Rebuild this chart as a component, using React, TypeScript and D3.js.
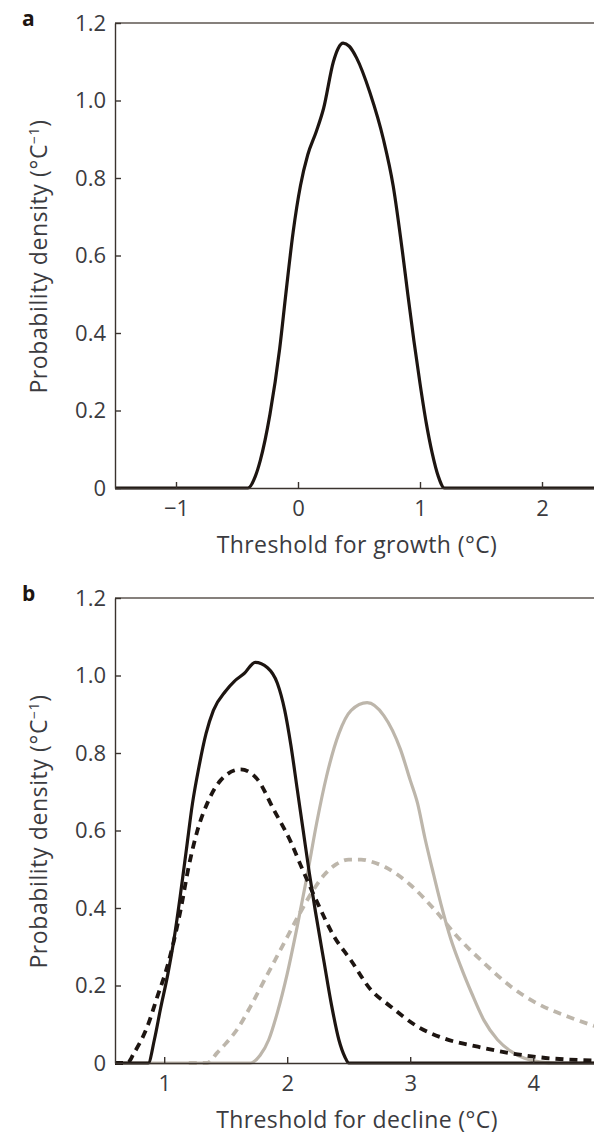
import React from "react";
import * as d3 from "d3";

// panel a: threshold for growth
const growthX = [-1.5, -0.41, -0.35, -0.31, -0.23, -0.15, -0.1, -0.04, 0.02, 0.08, 0.15, 0.21, 0.29, 0.33, 0.37, 0.42, 0.48, 0.59, 0.7, 0.78, 0.86, 0.9, 0.95, 1.0, 1.05, 1.1, 1.15, 1.2, 2.45];
const growthY = [0, 0, 0.03, 0.07, 0.19, 0.36, 0.5, 0.66, 0.78, 0.86, 0.92, 0.98, 1.1, 1.135, 1.148, 1.14, 1.11, 1.02, 0.9, 0.78, 0.6, 0.5, 0.38, 0.27, 0.17, 0.09, 0.03, 0, 0];

// panel b: threshold for decline
const blackSolidX = [0.6, 0.87, 0.92, 0.97, 1.03, 1.08, 1.13, 1.18, 1.23, 1.28, 1.34, 1.4, 1.5, 1.57, 1.65, 1.74, 1.84, 1.92, 1.98, 2.03, 2.08, 2.13, 2.18, 2.23, 2.3, 2.36, 2.42, 2.47, 2.5, 4.6];
const blackSolidY = [0, 0, 0.06, 0.14, 0.23, 0.32, 0.43, 0.55, 0.67, 0.76, 0.85, 0.91, 0.96, 0.985, 1.005, 1.034, 1.02, 0.98, 0.91, 0.82, 0.71, 0.6, 0.49, 0.39, 0.26, 0.15, 0.06, 0.015, 0, 0];

const blackDashX = [0.6, 0.7, 0.755, 0.863, 0.945, 1.026, 1.134, 1.2, 1.27, 1.35, 1.46, 1.62, 1.758, 1.89, 2.03, 2.11, 2.245, 2.38, 2.516, 2.68, 2.84, 3.06, 3.27, 3.55, 3.82, 4.14, 4.6];
const blackDashY = [0, 0, 0.026, 0.094, 0.172, 0.25, 0.396, 0.508, 0.6, 0.67, 0.73, 0.758, 0.732, 0.654, 0.57, 0.51, 0.414, 0.327, 0.266, 0.189, 0.146, 0.094, 0.064, 0.042, 0.025, 0.012, 0.006];

const greySolidX = [0.6, 1.7, 1.78, 1.85, 1.92, 2.0, 2.08, 2.16, 2.24, 2.32, 2.42, 2.52, 2.65, 2.787, 2.92, 3.0, 3.06, 3.12, 3.18, 3.25, 3.33, 3.41, 3.5, 3.6, 3.71, 3.82, 3.93, 4.05, 4.2, 4.6];
const greySolidY = [0, 0, 0.02, 0.06, 0.13, 0.23, 0.35, 0.48, 0.62, 0.74, 0.85, 0.91, 0.93, 0.896, 0.81, 0.73, 0.67, 0.58, 0.5, 0.41, 0.32, 0.25, 0.18, 0.11, 0.06, 0.03, 0.012, 0.003, 0, 0];

const greyDashX = [1.2, 1.35, 1.43, 1.5, 1.6, 1.7, 1.8, 1.9, 2.0, 2.1, 2.2, 2.3, 2.4, 2.5, 2.6, 2.7, 2.8, 3.0, 3.2, 3.38, 3.6, 3.82, 4.03, 4.28, 4.6];
const greyDashY = [0, 0, 0.026, 0.05, 0.09, 0.145, 0.205, 0.265, 0.325, 0.385, 0.44, 0.485, 0.513, 0.525, 0.525, 0.518, 0.505, 0.46, 0.395, 0.327, 0.258, 0.197, 0.154, 0.12, 0.085];

const yTicks = [0, 0.2, 0.4, 0.6, 0.8, 1.0, 1.2];
const growthTicks = [-1, 0, 1, 2];
const declineTicks = [1, 2, 3, 4];

const BLACK = "#1d1511";
const GREY = "#bdb6ab";
const AXIS = "#3a332e";
const TEXT = "#3b3b3f";
const FONT = "'Open Sans', sans-serif";

function Panel({ label, top, xDomain, xRange, xTicks, xTitle, series }) {
  const left = 115;
  const plotTop = top;
  const plotBottom = top + 465;

  const x = d3.scaleLinear().domain(xDomain).range(xRange);
  const y = d3.scaleLinear().domain([0, 1.2]).range([plotBottom, plotTop]);

  const xAxis = d3
    .axisBottom(x)
    .tickValues(xTicks)
    .tickSizeInner(-6)
    .tickSizeOuter(0)
    .tickPadding(12)
    .tickFormat((d) => (d < 0 ? "\u2212" + Math.abs(d) : String(d)));

  const yAxis = d3
    .axisLeft(y)
    .tickValues(yTicks)
    .tickSizeInner(-6)
    .tickSizeOuter(0)
    .tickPadding(9)
    .tickFormat((d) => (d === 0 ? "0" : d.toFixed(1)));

  const styleAxis = (node) => {
    if (!node) return;
    const g = d3.select(node);
    g.selectAll("path, line").attr("stroke", AXIS).attr("stroke-width", 1.4);
    g.selectAll("text")
      .attr("fill", TEXT)
      .attr("font-family", FONT)
      .attr("font-size", 22);
    g.attr("font-family", null).attr("font-size", null);
  };

  const line = d3
    .line()
    .x((d) => x(d[0]))
    .y((d) => y(d[1]))
    .curve(d3.curveMonotoneX);

  const midY = (plotTop + plotBottom) / 2;

  return (
    <g>
      <text x={22} y={top + 3} fontFamily={FONT} fontWeight="bold" fontSize={21} fill={BLACK}>
        {label}
      </text>
      <line x1={left} x2={600} y1={plotTop} y2={plotTop} stroke="#5e5650" strokeWidth={1.6} />
      {series.map((s, i) => (
        <path
          key={i}
          d={line(d3.zip(s.xs, s.ys))}
          fill="none"
          stroke={s.color}
          strokeWidth={s.dash ? 3.8 : 3.2}
          strokeDasharray={s.dash || null}
          strokeLinejoin="round"
        />
      ))}
      <g
        transform={`translate(0, ${plotBottom})`}
        ref={(node) => {
          if (node) {
            d3.select(node).call(xAxis);
            styleAxis(node);
          }
        }}
      />
      <g
        transform={`translate(${left}, 0)`}
        ref={(node) => {
          if (node) {
            d3.select(node).call(yAxis);
            styleAxis(node);
          }
        }}
      />
      <text
        transform={`translate(47, ${midY + 1}) rotate(-90)`}
        textAnchor="middle"
        fontFamily={FONT}
        fontSize={23}
        letterSpacing={0.6}
        fill={TEXT}
      >
        Probability density (°C
        <tspan dy={-8} fontSize={14}>−1</tspan>
        <tspan dy={8}>)</tspan>
      </text>
      <text
        x={357}
        y={plotBottom + 65}
        textAnchor="middle"
        fontFamily={FONT}
        fontSize={23}
        letterSpacing={0.4}
        fill={TEXT}
      >
        {xTitle}
      </text>
    </g>
  );
}

export default function App() {
  return (
    <svg
      width={594}
      height={1134}
      style={{ position: "absolute", left: 0, top: 0, display: "block", background: "#fff" }}
    >
      <Panel
        label="a"
        top={23}
        xDomain={[-1.5, 2.45]}
        xRange={[115, 115 + 3.95 * 122]}
        xTicks={growthTicks}
        xTitle="Threshold for growth (°C)"
        series={[{ xs: growthX, ys: growthY, color: BLACK }]}
      />
      <Panel
        label="b"
        top={598}
        xDomain={[0.6, 4.6]}
        xRange={[115, 115 + 4 * 123]}
        xTicks={declineTicks}
        xTitle="Threshold for decline (°C)"
        series={[
          { xs: greySolidX, ys: greySolidY, color: GREY },
          { xs: greyDashX, ys: greyDashY, color: GREY, dash: "8,6" },
          { xs: blackDashX, ys: blackDashY, color: BLACK, dash: "8,6" },
          { xs: blackSolidX, ys: blackSolidY, color: BLACK },
        ]}
      />
    </svg>
  );
}
